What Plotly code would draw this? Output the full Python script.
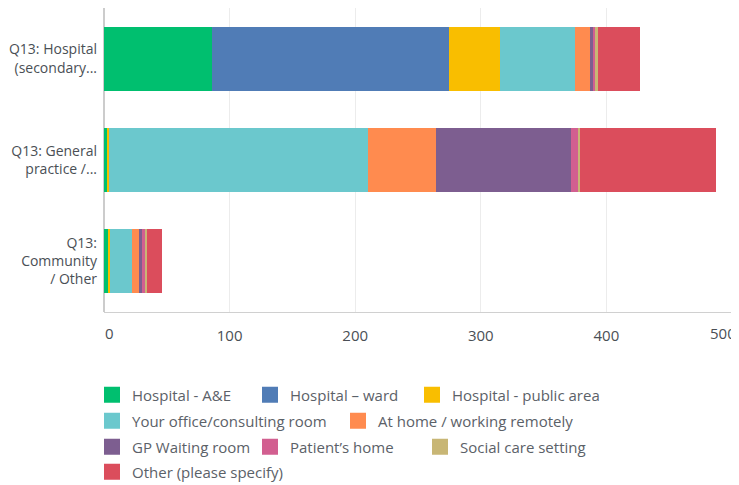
import plotly.graph_objects as go

# rows, top to bottom
categories = ["Q13: Hospital (secondary care)", "Q13: General practice / Primary care", "Q13: Community / Other"]
tick_labels = ["Q13: Hospital<br>(secondary...", "Q13: General<br>practice /...", "Q13:<br>Community<br>/ Other"]

series_names = [
    "Hospital - A&E",
    "Hospital \u2013 ward",
    "Hospital - public area",
    "Your office/consulting room",
    "At home / working remotely",
    "GP Waiting room",
    "Patient\u2019s home",
    "Social care setting",
    "Other (please specify)",
]

hospital_ae = [86, 3, 3]
hospital_ward = [189, 0, 0]
hospital_public = [40, 1, 2]
office_room = [60, 206, 17]
at_home = [12, 54, 6]
gp_waiting = [3, 108, 2]
patients_home = [1, 5, 3]
social_care = [2, 2, 1]
other = [34, 108, 12]

colors = ["#00BF6F", "#507CB6", "#F9BE00", "#6BC8CD", "#FF8B4F",
          "#7D5E90", "#D25F90", "#C8B675", "#DB4D5C"]

series_values = [hospital_ae, hospital_ward, hospital_public, office_room, at_home,
                 gp_waiting, patients_home, social_care, other]

# page body has an 8px margin, so the figure is sized to the visible area
W, H = 731, 477

# legend entry placement (swatch left edge / row centre, in figure px)
leg_x = [96, 254, 416, 96, 342, 96, 254, 424, 96]
leg_y = [387, 387, 387, 413, 413, 439, 439, 439, 464]

fig = go.Figure()
layout_legends = {}
for i, (name, vals, col) in enumerate(zip(series_names, series_values, colors)):
    lg = "legend" if i == 0 else "legend%d" % (i + 1)
    fig.add_trace(go.Bar(
        y=categories, x=vals, name=name, orientation="h",
        marker=dict(color=col, line=dict(width=0)),
        width=0.63,
        showlegend=False,
    ))
    # legend entry with a bigger square swatch
    fig.add_trace(go.Scatter(
        x=[None], y=[None], mode="markers", name=name,
        marker=dict(symbol="square", size=16, color=col),
        showlegend=True, legend=lg,
    ))
    layout_legends[lg] = dict(
        orientation="h", xref="container", yref="container",
        x=(leg_x[i] - 12) / W, y=1 - leg_y[i] / H,
        xanchor="left", yanchor="middle",
        font=dict(size=15, color="#5b6168"), itemwidth=30,
        bgcolor="rgba(0,0,0,0)",
    )

fig.update_layout(
    barmode="stack",
    width=W, height=H,
    paper_bgcolor="white", plot_bgcolor="white",
    font=dict(family="Open Sans, sans-serif", color="#4a4f55", size=13),
    margin=dict(l=96, r=7, t=0, b=173, autoexpand=False),
    **layout_legends,
)

x_ticks = [0, 100, 200, 300, 400, 500]
# end labels are nudged inside the frame, as in the original
fig.update_xaxes(
    range=[0, 500], tickvals=x_ticks,
    ticktext=["" if v in (0, 500) else str(v) for v in x_ticks],
    showgrid=True, gridcolor="#ececec", gridwidth=1,
    zeroline=True, zerolinecolor="#cccccc", zerolinewidth=2,
    showline=True, linecolor="#d0d0d0", linewidth=1,
    ticks="", ticklabelstandoff=10,
    tickfont=dict(size=15, color="#4a4f55"),
)
for v, anchor, shift in [(x_ticks[0], "left", -1), (x_ticks[-1], "right", 6)]:
    fig.add_annotation(x=v, y=0, xref="x", yref="paper", text=str(v),
                       showarrow=False, xanchor=anchor, yanchor="top",
                       xshift=shift, yshift=-9,
                       font=dict(size=15, color="#4a4f55"))

fig.update_yaxes(
    categoryorder="array", categoryarray=categories, autorange="reversed",
    tickvals=categories, ticktext=tick_labels,
    showgrid=False, showline=False, ticks="", ticklabelstandoff=6,
    tickfont=dict(size=14, color="#4a4f55"),
)

fig.write_html("out.html")
